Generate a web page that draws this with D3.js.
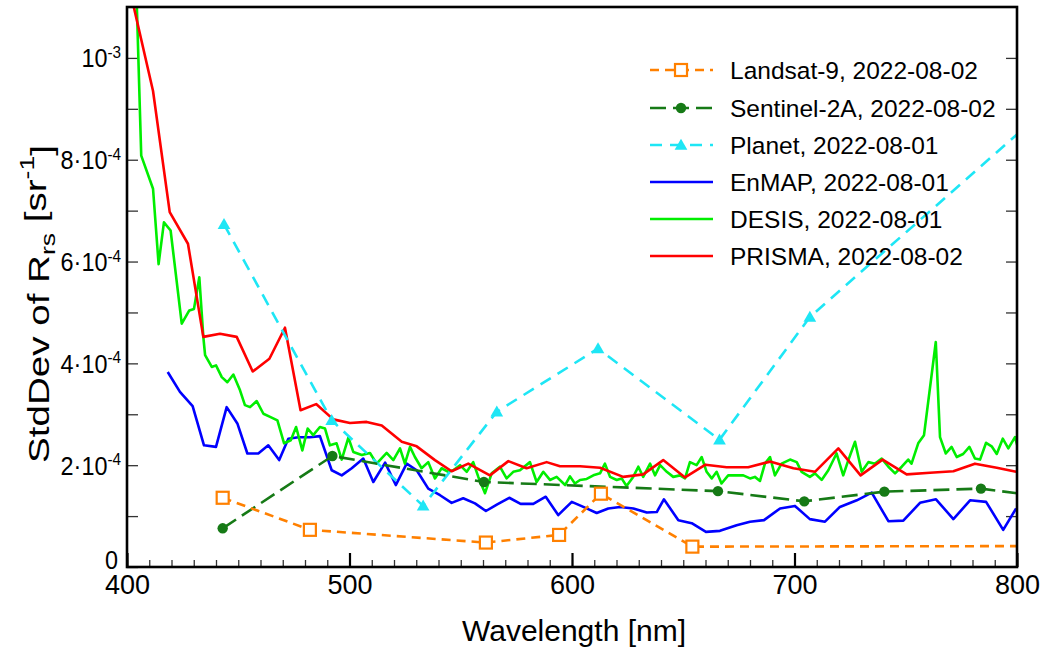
<!DOCTYPE html>
<html><head><meta charset="utf-8">
<script src="https://cdn.jsdelivr.net/npm/d3@7"></script>
<style>
body{margin:0;background:#fff}
svg{display:block}
text{font-family:"Liberation Sans",Arial,sans-serif;fill:#000}
</style>
</head><body><svg id="c" width="1046" height="648"></svg>
<script>
// ---- Data (StdDev values in units of 1e-4 sr^-1) ----
const landsatWl  = [443, 482.2, 561.3, 594.2, 613.0, 654.1, 865];
const landsatStd = [1.36, 0.73, 0.48, 0.63, 1.44, 0.40, 0.415];

const sentinelWl  = [443, 492.3, 560.4, 665.6, 704.4, 740.4, 783.8, 842];
const sentinelStd = [0.76, 2.18, 1.67, 1.49, 1.29, 1.48, 1.54, 1.21];

const planetWl  = [443.6, 492.0, 533.1, 566.2, 611.7, 666.3, 706.9, 865];
const planetStd = [6.73, 2.88, 1.20, 3.05, 4.29, 2.50, 4.91, 11.0];

const enmapWl = [418.3,423.8,429.5,434.6,440.0,444.8,449.6,454.1,459.0,463.5,468.4,472.5,477.0,482.2,486.7,492.0,496.5,501.0,506.2,510.7,516.0,520.8,525.7,530.2,535.4,540.7,545.9,551.1,556.4,561.3,566.4,571.8,576.9,582.6,588.2,593.8,599.9,605.1,611.1,616.3,621.6,627.6,633.6,638.1,641.3,647.8,653.8,660.2,666.5,674.0,680.0,686.3,693.5,700.2,706.9,713.7,720.4,728.0,734.7,742.2,748.9,756.4,763.6,771.4,778.9,786.1,793.8,799.6];
const enmapStd = [3.83,3.44,3.16,2.39,2.36,3.14,2.82,2.23,2.23,2.39,2.10,2.52,2.55,2.55,2.57,1.90,1.80,1.94,2.13,1.67,2.05,1.61,2.03,1.90,1.54,1.41,1.26,1.35,1.25,1.10,1.23,1.36,1.24,1.24,1.38,1.02,1.28,1.18,1.06,1.15,1.18,1.15,1.07,1.08,1.33,0.92,0.86,0.69,0.71,0.82,0.89,0.92,1.15,1.20,0.94,0.89,1.18,1.31,1.46,0.90,0.91,1.26,1.33,0.94,1.31,1.28,0.73,1.15];

const desisWl = [404.3,406.4,411.7,414.2,416.6,419.6,424.6,428.0,430.1,432.5,434.3,435.1,438.1,440.0,442.6,445.1,447.8,450.8,453.0,455.3,458.3,461.3,464.3,467.6,470.6,473.6,476.0,478.8,481.2,483.7,486.7,489.0,491.2,494.2,496.5,499.5,501.7,505.5,509.2,512.2,516.7,519.7,522.7,524.9,527.2,529.4,532.4,535.4,538.4,541.4,544.4,546.6,549.7,552.7,555.6,557.9,560.9,563.9,567.6,570.6,573.6,576.6,581.1,584.1,587.1,590.1,593.1,596.9,599.1,601.3,603.6,606.6,609.6,612.6,614.8,617.1,620.1,622.3,624.5,627.5,629.8,632.0,635.1,637.3,639.6,642.6,645.5,648.5,650.8,653.0,656.0,658.3,660.5,662.8,665.0,667.2,670.2,674.0,677.0,680.0,682.2,684.5,686.7,689.0,691.2,694.2,698.0,701.0,703.2,706.9,709.2,712.2,715.2,718.9,721.9,724.2,727.2,730.2,733.2,736.2,739.2,742.2,745.2,748.2,751.1,752.6,755.6,758.2,763.5,765.4,768.0,770.6,772.9,775.8,778.6,781.1,783.4,786.1,788.6,790.9,793.6,796.1,799.1,800.5];
const desisStd = [11.2,8.08,7.43,5.95,6.77,6.61,4.78,5.04,5.07,5.69,4.52,4.16,3.93,3.96,3.73,3.63,3.78,3.47,3.18,3.14,3.26,3.01,2.95,2.88,2.43,2.49,2.75,2.29,2.72,2.59,2.75,2.72,2.39,2.43,2.11,2.54,2.26,2.20,2.24,2.03,2.24,2.10,2.33,2.03,2.36,2.16,1.94,2.06,1.74,1.94,1.87,1.90,2.00,1.87,2.06,1.77,1.45,1.84,1.97,1.74,1.87,1.90,2.06,1.67,1.87,1.71,1.77,1.61,1.78,1.64,1.71,1.73,1.80,1.84,2.03,1.77,1.71,1.74,1.59,1.77,1.97,1.77,2.03,1.80,2.00,1.87,1.77,1.80,1.74,2.06,2.00,2.16,1.87,1.74,1.87,1.64,1.80,1.80,1.80,1.74,1.77,1.69,2.03,2.16,1.80,2.03,2.11,2.06,1.87,1.77,1.84,1.71,1.90,2.23,1.80,2.10,2.46,1.87,2.06,2.03,2.13,1.97,1.84,1.97,2.11,2.03,2.43,2.59,4.42,2.55,2.23,2.36,2.16,2.22,2.36,2.13,2.11,2.44,2.37,2.22,2.52,2.33,2.55,2.33];

const prismaWl = [402,411.7,419.2,427.4,434.3,441.8,449.3,456.5,464.0,471.0,478.0,485.0,492.7,500.2,507.7,514.5,523.5,530.2,538.4,545.9,553.4,563.1,571.4,579.6,588.6,594.6,603.6,612.6,623.0,632.0,641.0,650.8,660.0,669.5,679.2,689.0,699.5,709.2,719.7,729.7,739.6,750.4,760.9,771.4,781.1,790.9,799.6];
const prismaStd = [11.2,9.35,6.97,6.35,4.52,4.58,4.52,3.84,4.09,4.70,3.08,3.20,2.90,2.83,2.85,2.78,2.46,2.37,2.10,1.88,2.03,1.80,2.08,1.94,2.06,1.98,1.98,1.95,1.77,1.82,2.10,1.76,2.01,1.96,1.96,2.07,1.94,1.87,2.33,1.80,2.11,1.82,1.85,1.88,2.03,1.95,1.87];

const xTicks = [400, 500, 600, 700, 800];
const yTickLabels = [
  {v:0, base:"0", sup:""},
  {v:2, base:"2·10", sup:"-4"},
  {v:4, base:"4·10", sup:"-4"},
  {v:6, base:"6·10", sup:"-4"},
  {v:8, base:"8·10", sup:"-4"},
  {v:10, base:"10", sup:"-3"}
];

const series = [
  {name:"Landsat-9, 2022-08-02", wl:landsatWl, v:landsatStd, color:"#ff8000", dash:"9,6", marker:"square"},
  {name:"Sentinel-2A, 2022-08-02", wl:sentinelWl, v:sentinelStd, color:"#167a16", dash:"16,7", marker:"circle"},
  {name:"Planet, 2022-08-01", wl:planetWl, v:planetStd, color:"#1ee6f5", dash:"12,8", marker:"triangle"},
  {name:"EnMAP, 2022-08-01", wl:enmapWl, v:enmapStd, color:"#0000ff", dash:null, marker:null},
  {name:"DESIS, 2022-08-01", wl:desisWl, v:desisStd, color:"#00ee00", dash:null, marker:null},
  {name:"PRISMA, 2022-08-02", wl:prismaWl, v:prismaStd, color:"#ff0000", dash:null, marker:null}
];

// ---- Layout ----
const svg = d3.select("#c");
const m = {l:127, r:1017, t:7, b:567};
const x = d3.scaleLinear().domain([400, 800]).range([m.l, m.r]);
const y = d3.scaleLinear().domain([0, 11]).range([m.b, m.t]);

svg.append("defs").append("clipPath").attr("id","clip")
  .append("rect").attr("x",m.l).attr("y",m.t).attr("width",m.r-m.l).attr("height",m.b-m.t);

// axes ticks (inward)
svg.append("g").attr("transform",`translate(0,${m.b})`)
  .call(d3.axisBottom(x).tickValues(d3.range(400,801,10)).tickSize(-7).tickFormat(""));
const gxMajor = svg.append("g").attr("transform",`translate(0,${m.b})`)
  .call(d3.axisBottom(x).tickValues(xTicks).tickSize(-14).tickPadding(8).tickFormat(d3.format("d")));
svg.append("g").attr("transform",`translate(${m.l},0)`)
  .call(d3.axisLeft(y).tickValues(d3.range(0,11,1)).tickSize(-11).tickFormat(""));
svg.append("g").attr("transform",`translate(${m.r},0)`)
  .call(d3.axisRight(y).tickValues(d3.range(1,11,1)).tickSize(-11).tickFormat(""));
svg.selectAll(".domain").remove();
svg.selectAll(".tick line").attr("stroke","#333").attr("stroke-width",1.3);
gxMajor.selectAll(".tick line").attr("stroke","#000").attr("stroke-width",2.2);
gxMajor.selectAll(".tick text").attr("font-size",27).attr("fill","#000")
  .attr("font-family","'Liberation Sans',Arial,sans-serif");

// y tick labels with superscripts
const yl = svg.append("g");
yTickLabels.forEach(t=>{
  const yy = y(t.v) - (t.v===0 ? 7 : 0);
  const tx = yl.append("text").attr("transform",`translate(${m.l-6 - (t.v===0?3:0)},${yy}) scale(0.9,1)`)
    .attr("text-anchor","end").attr("dy","0.36em").attr("font-size",26);
  tx.append("tspan").text(t.base);
  if (t.sup) tx.append("tspan").attr("dy","-0.55em").attr("font-size",17).text(t.sup);
});

// series
const plot = svg.append("g").attr("clip-path","url(#clip)");
const line = d3.line().x(d=>x(d[0])).y(d=>y(d[1]));
const drawOrder = [3,4,5,2,1,0];
drawOrder.forEach(i=>{
  const s = series[i];
  const pts = s.wl.map((w,k)=>[w, s.v[k]]);
  plot.append("path").datum(pts).attr("d",line).attr("fill","none")
    .attr("stroke",s.color).attr("stroke-width",2.6)
    .attr("stroke-dasharray",s.dash).attr("stroke-linejoin","round");
  if (s.marker) {
    pts.forEach(p=>drawMarker(plot, s, x(p[0]), y(p[1])));
  }
});

function drawMarker(g, s, cx, cy){
  if (s.marker==="square") {
    g.append("rect").attr("x",cx-6).attr("y",cy-6).attr("width",12).attr("height",12)
      .attr("fill","#fff").attr("stroke",s.color).attr("stroke-width",2.2);
  } else if (s.marker==="circle") {
    g.append("circle").attr("cx",cx).attr("cy",cy).attr("r",5.2).attr("fill",s.color);
  } else if (s.marker==="triangle") {
    g.append("path").attr("d",d3.symbol(d3.symbolTriangle,70)()).attr("transform",`translate(${cx},${cy+1})`)
      .attr("fill",s.color);
  }
}

// frame
svg.append("rect").attr("x",m.l).attr("y",m.t).attr("width",m.r-m.l).attr("height",m.b-m.t)
  .attr("fill","none").attr("stroke","#000").attr("stroke-width",2.6);

// legend
const legY = [70,108,145,182,219,256];
series.forEach((s,i)=>{
  const g = svg.append("g");
  g.append("line").attr("x1",650).attr("x2",713).attr("y1",legY[i]).attr("y2",legY[i])
    .attr("stroke",s.color).attr("stroke-width",2.6).attr("stroke-dasharray",s.dash);
  if (s.marker) drawMarker(g, s, 681, legY[i]);
  g.append("text").attr("x",730).attr("y",legY[i]).attr("dy","0.36em").attr("font-size",24.5).text(s.name);
});

// axis titles
svg.append("text").attr("x",(m.l+m.r)/2 + 2).attr("y",641).attr("text-anchor","middle")
  .attr("font-size",30).text("Wavelength [nm]");
const yt = svg.append("text").attr("transform","translate(49,304) rotate(-90) scale(1.33,1)")
  .attr("text-anchor","middle").attr("font-size",29);
yt.append("tspan").text("StdDev of R");
yt.append("tspan").attr("dy","0.3em").attr("font-size",20).text("rs");
yt.append("tspan").attr("dy","-0.3em").text(" [sr");
yt.append("tspan").attr("dy","-0.6em").attr("font-size",20).text("-1");
yt.append("tspan").attr("dy","0.6em").text("]");
</script>
</body></html>
